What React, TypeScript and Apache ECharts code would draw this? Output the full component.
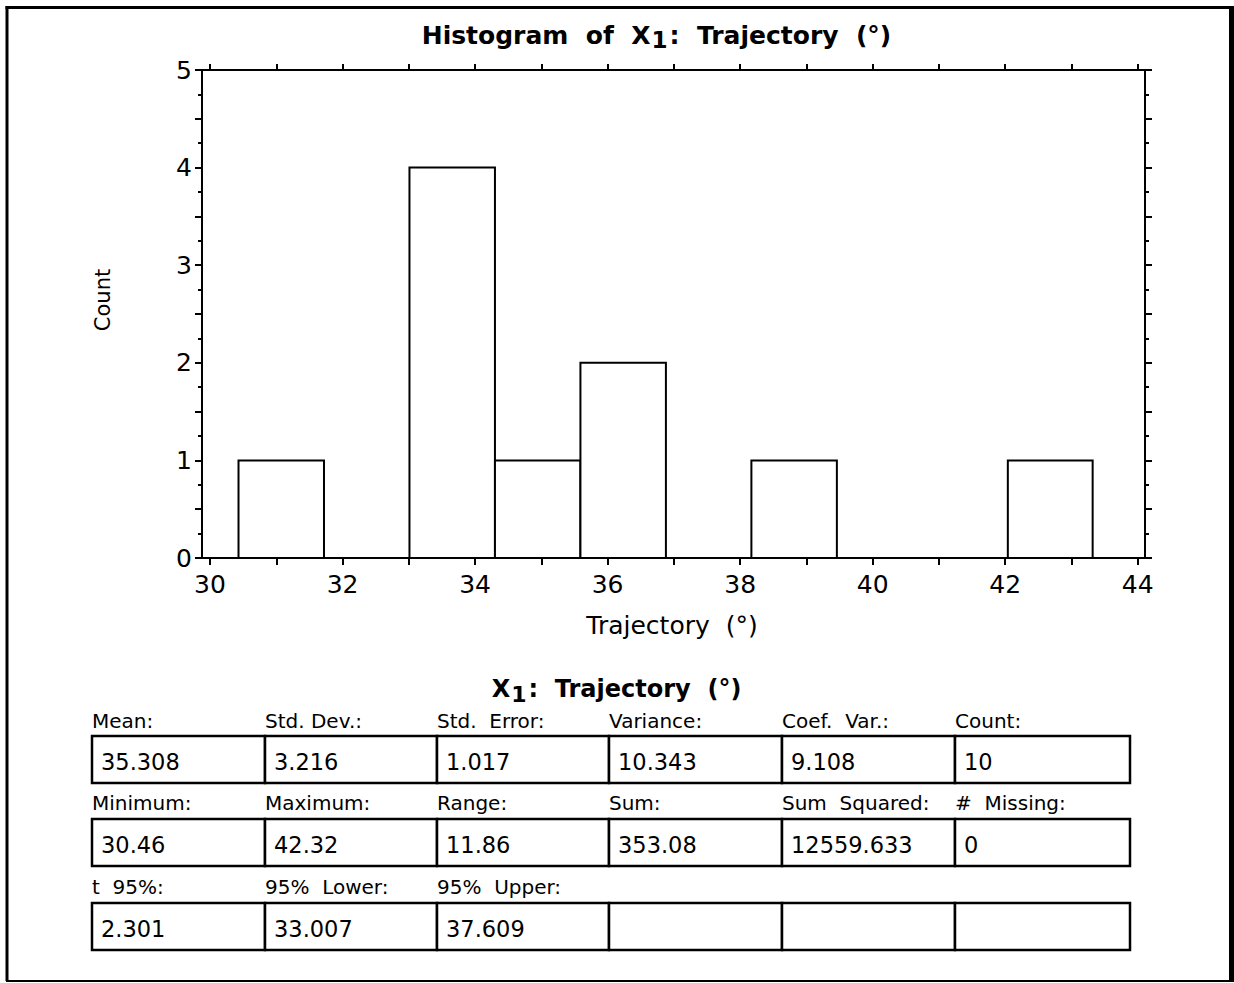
import React, { useEffect, useRef } from "react";
import * as echarts from "echarts";

// ---- data ----
const binEdges = [30.43, 31.72, 33.01, 34.3, 35.59, 36.88, 38.17, 39.46, 40.75, 42.04, 43.32];
const binCounts = [1, 0, 4, 1, 2, 0, 1, 0, 0, 1];
const xTickValues = [30, 31, 32, 33, 34, 35, 36, 37, 38, 39, 40, 41, 42, 43, 44];
const xLabelValues = [30, 32, 34, 36, 38, 40, 42, 44];

const chartTitleParts = ["Histogram  of  X", "1", ":  Trajectory  (\u00b0)"];
const tableTitleParts = ["X", "1", ":  Trajectory  (\u00b0)"];
const xAxisName = "Trajectory  (\u00b0)";
const yAxisName = "Count";

const statLabels = [
  ["Mean:", "Std. Dev.:", "Std.  Error:", "Variance:", "Coef.  Var.:", "Count:"],
  ["Minimum:", "Maximum:", "Range:", "Sum:", "Sum  Squared:", "#  Missing:"],
  ["t  95%:", "95%  Lower:", "95%  Upper:", "", "", ""],
];
const statValues = [
  ["35.308", "3.216", "1.017", "10.343", "9.108", "10"],
  ["30.46", "42.32", "11.86", "353.08", "12559.633", "0"],
  ["2.301", "33.007", "37.609", "", "", ""],
];

const FONT = "'DejaVu Sans', Verdana, sans-serif";

function measure(text: string, size: number, bold: boolean): number {
  const cv = document.createElement("canvas");
  const ctx = cv.getContext("2d");
  if (!ctx) return text.length * size * 0.6;
  ctx.font = `${bold ? "bold " : ""}${size}px ${FONT}`;
  return ctx.measureText(text).width;
}

function subTitle(parts: string[], cx: number, cy: number, size: number, subSize: number): any[] {
  const w0 = measure(parts[0], size, true);
  const w1 = measure(parts[1], subSize, true) + 2;
  const w2 = measure(parts[2], size, true);
  let x = cx - (w0 + w1 + w2) / 2;
  const out: any[] = [];
  const mk = (t: string, xx: number, yy: number, s: number) => ({
    type: "text", x: xx, y: yy,
    style: { text: t, fontFamily: FONT, fontSize: s, fontWeight: "bold", fill: "#000", align: "left", verticalAlign: "middle" },
  });
  out.push(mk(parts[0], x, cy, size));
  x += w0 + 1;
  out.push(mk(parts[1], x, cy + 5, subSize));
  x += w1;
  out.push(mk(parts[2], x, cy, size));
  return out;
}

export default function App() {
  const ref = useRef<HTMLDivElement>(null);

  useEffect(() => {
    if (!ref.current) return;
    const chart = echarts.init(ref.current, undefined, { renderer: "svg" });

    const binData = binCounts.map((c, i) => [binEdges[i], binEdges[i + 1], c]);

    const colX = [92, 265, 437, 609, 782, 955, 1130];
    const rowLabelY = [721, 803, 887];
    const boxTop = [736, 819, 903];
    const boxH = 47;

    const graphics: any[] = [];
    // outer frame
    graphics.push({ type: "line", shape: { x1: 5.5, y1: 7.5, x2: 1232, y2: 7.5 }, style: { stroke: "#000", lineWidth: 3 } });
    graphics.push({ type: "line", shape: { x1: 7, y1: 6, x2: 7, y2: 981 }, style: { stroke: "#000", lineWidth: 3 } });
    graphics.push({ type: "line", shape: { x1: 1231.5, y1: 6, x2: 1231.5, y2: 982 }, style: { stroke: "#000", lineWidth: 5 } });
    graphics.push({ type: "line", shape: { x1: 6, y1: 981, x2: 1232, y2: 981 }, style: { stroke: "#000", lineWidth: 2 } });

    graphics.push(...subTitle(chartTitleParts, 656, 35, 25, 23));
    graphics.push({
      type: "text", x: 103, y: 300, rotation: Math.PI / 2,
      style: { text: yAxisName, fontFamily: FONT, fontSize: 21, fill: "#000", align: "center", verticalAlign: "middle" },
    });
    graphics.push({
      type: "text", x: 672, y: 625,
      style: { text: xAxisName, fontFamily: FONT, fontSize: 25, fill: "#000", align: "center", verticalAlign: "middle" },
    });
    graphics.push(...subTitle(tableTitleParts, 616, 689, 24, 22));

    for (let r = 0; r < 3; r++) {
      for (let c = 0; c < 6; c++) {
        const x0 = colX[c];
        const x1 = colX[c + 1];
        graphics.push({
          type: "rect",
          shape: { x: x0, y: boxTop[r], width: x1 - x0, height: boxH },
          style: { fill: "#fff", stroke: "#000", lineWidth: 2.5 },
        });
        if (statLabels[r][c]) {
          graphics.push({
            type: "text", x: x0, y: rowLabelY[r],
            style: { text: statLabels[r][c], fontFamily: FONT, fontSize: 20, fill: "#000", align: "left", verticalAlign: "middle" },
          });
        }
        if (statValues[r][c]) {
          graphics.push({
            type: "text", x: x0 + 9, y: boxTop[r] + boxH / 2 + 2,
            style: { text: statValues[r][c], fontFamily: FONT, fontSize: 22.5, fill: "#000", align: "left", verticalAlign: "middle" },
          });
        }
      }
    }

    const axisLine = { show: true, onZero: false, lineStyle: { color: "#000", width: 2 } };

    chart.setOption({
      animation: false,
      backgroundColor: "#fff",
      grid: { left: 202, top: 70, width: 943, height: 488, containLabel: false },
      xAxis: [
        {
          type: "value", position: "bottom", min: 29.879, max: 44.11,
          axisLine, splitLine: { show: false },
          axisTick: { show: true, length: 7, lineStyle: { color: "#000", width: 2 }, customValues: xTickValues },
          axisLabel: { show: true, customValues: xLabelValues, margin: 14, color: "#000", fontFamily: FONT, fontSize: 25 },
        },
        {
          type: "value", position: "top", min: 29.879, max: 44.11,
          axisLine, splitLine: { show: false },
          axisTick: { show: true, length: 6, lineStyle: { color: "#000", width: 2 }, customValues: xTickValues },
          axisLabel: { show: false },
        },
      ],
      yAxis: [
        {
          type: "value", position: "left", min: 0, max: 5, interval: 0.5,
          axisLine, splitLine: { show: false },
          axisTick: { show: true, length: 7, lineStyle: { color: "#000", width: 2 } },
          minorTick: { show: true, splitNumber: 2, length: 4, lineStyle: { color: "#000", width: 2 } },
          minorSplitLine: { show: false },
          axisLabel: {
            margin: 10, color: "#000", fontFamily: FONT, fontSize: 25,
            formatter: (v: number) => (Math.abs(v - Math.round(v)) < 1e-6 ? String(Math.round(v)) : ""),
          },
        },
        {
          type: "value", position: "right", min: 0, max: 5, interval: 0.5,
          axisLine, splitLine: { show: false },
          axisTick: { show: true, length: 7, lineStyle: { color: "#000", width: 2 } },
          minorTick: { show: true, splitNumber: 2, length: 4, lineStyle: { color: "#000", width: 2 } },
          minorSplitLine: { show: false },
          axisLabel: { show: false },
        },
      ],
      series: [
        {
          type: "custom",
          xAxisIndex: 0,
          yAxisIndex: 0,
          data: binData,
          renderItem: (params: any, api: any) => {
            const p0 = api.coord([api.value(0), api.value(2)]);
            const p1 = api.coord([api.value(1), 0]);
            return {
              type: "rect",
              shape: { x: p0[0], y: p0[1], width: p1[0] - p0[0], height: p1[1] - p0[1] },
              style: { fill: "#fff", stroke: "#000", lineWidth: 2 },
            };
          },
        },
      ],
      graphic: graphics,
    });

    return () => chart.dispose();
  }, []);

  return <div ref={ref} style={{ position: "absolute", left: 0, top: 0, width: 1234, height: 983 }} />;
}
